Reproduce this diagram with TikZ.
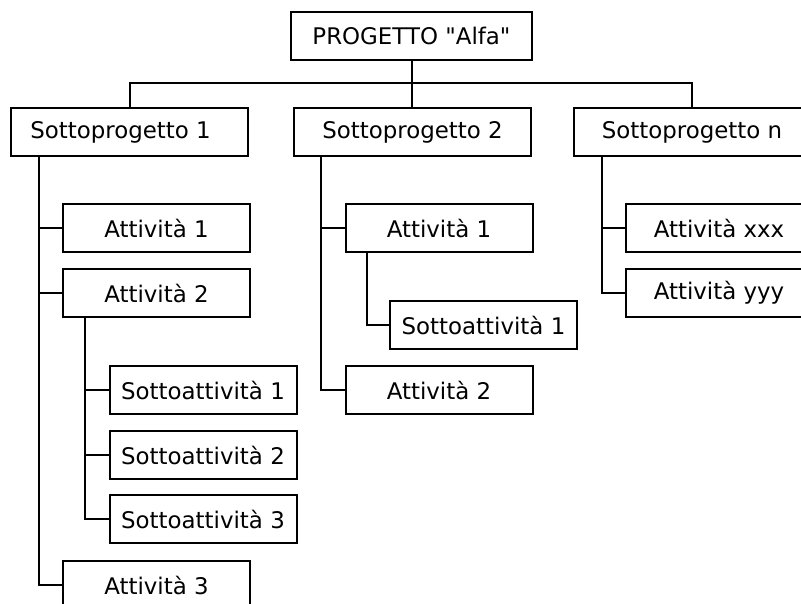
\documentclass[tikz,border=0pt]{standalone}
\usepackage{fontspec}
\setmainfont{DejaVu Sans}[Ligatures=TeXOff]
\usetikzlibrary{positioning}

\begin{document}
\begin{tikzpicture}[x=1pt,y=-1pt,line width=2pt,
    box/.style={draw,rectangle,inner sep=0pt,minimum height=48pt,
      font=\fontsize{22.9}{27}\selectfont},
    sub/.style={box,minimum width=237pt},
    act/.style={box,minimum width=187pt}]
    \useasboundingbox (0,0) rectangle (801,603);
    \clip (0,0) rectangle (801,603);
    % project
    \node[box,minimum width=241pt] (prog) at (411.5,36) {PROGETTO "Alfa"};
    % subprojects
    \node[sub] (sp1) at (129.5,132) {Sottoprogetto 1\kern18pt};
    \node[sub] (sp2) at (412.5,132) {Sottoprogetto 2};
    \node[sub] (spn) at (692,132)   {Sottoprogetto n};
    % activities of subproject 1
    \node[act] (a11) at (156.5,228) {Attività 1};
    \node[act] (a12) at (156.5,293) {Attività 2};
    \node[act] (s121) at (203,390) {Sottoattività 1};
    \node[act] (s122) at (203,455) {Sottoattività 2};
    \node[act] (s123) at (203,519) {Sottoattività 3};
    \node[act] (a13) at (156.5,585) {Attività 3};
    % activities of subproject 2
    \node[act] (a21) at (439,228)    {Attività 1};
    \node[act] (s211) at (483.5,325) {Sottoattività 1};
    \node[act] (a22) at (439,390)    {Attività 2};
    % activities of subproject n
    \node[act] (anx) at (719,228) {Attività xxx};
    \node[act] (any) at (719,293) {Attività yyy};
    % tree lines
    \draw (prog.south) -- (prog.south |- sp2.north);
    \draw (sp1.north) -- ++(0,-24) -| (spn.north);
    \foreach \n in {a11,a12,a13}
      \draw ([xshift=29pt]sp1.south west) |- (\n.west);
    \foreach \n in {s121,s122,s123}
      \draw ([xshift=23pt]a12.south west) |- (\n.west);
    \foreach \n in {a21,a22}
      \draw ([xshift=28pt]sp2.south west) |- (\n.west);
    \draw ([xshift=22pt]a21.south west) |- (s211.west);
    \foreach \n in {anx,any}
      \draw ([xshift=29pt]spn.south west) |- (\n.west);
\end{tikzpicture}
\end{document}
